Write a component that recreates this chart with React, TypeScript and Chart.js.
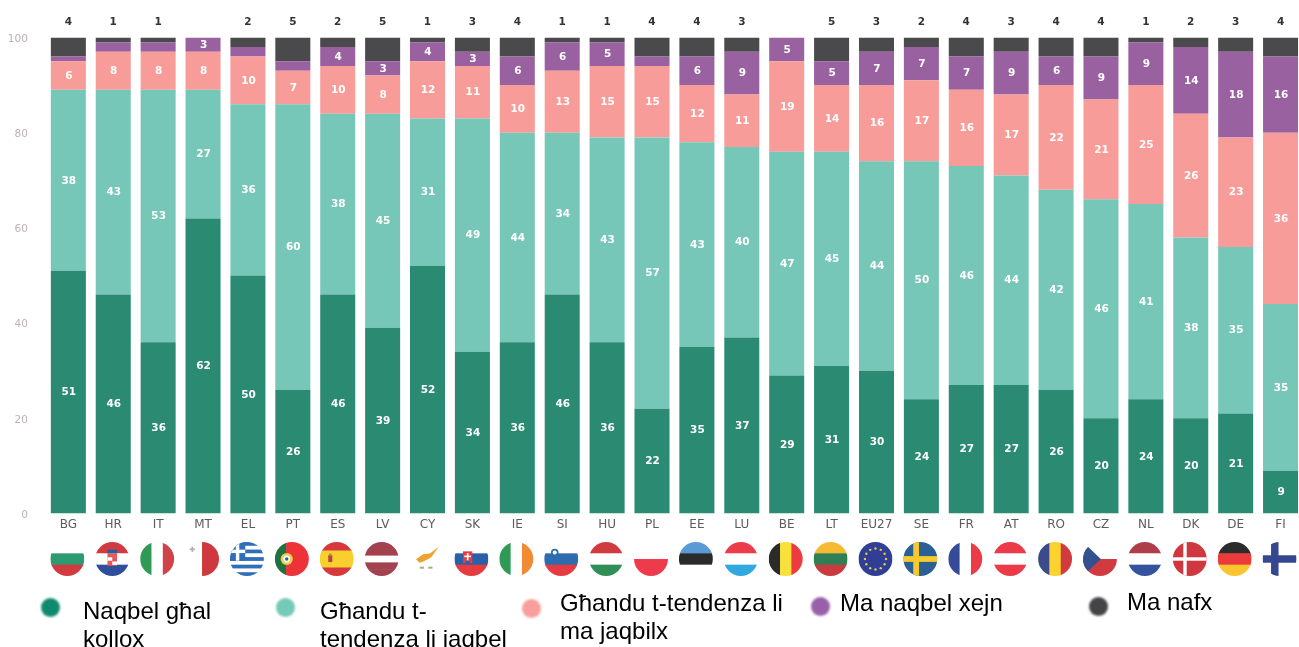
import React, { useEffect, useRef } from "react";
import { Chart, registerables } from "chart.js";

Chart.register(...registerables);

const countries = ["BG","HR","IT","MT","EL","PT","ES","LV","CY","SK","IE","SI","HU","PL","EE","LU","BE","LT","EU27","SE","FR","AT","RO","CZ","NL","DK","DE","FI"];
const totallyTrust = [51,46,36,62,50,26,46,39,52,34,36,46,36,22,35,37,29,31,30,24,27,27,26,20,24,20,21,9];
const tendToTrust = [38,43,53,27,36,60,38,45,31,49,44,34,43,57,43,40,47,45,44,50,46,44,42,46,41,38,35,35];
const tendNotTrust = [6,8,8,8,10,7,10,8,12,11,10,13,15,15,12,11,19,14,16,17,16,17,22,21,25,26,23,36];
const notAtAll = [1,2,2,3,2,2,4,3,4,3,6,6,5,2,6,9,5,5,7,7,7,9,6,9,9,14,18,16];
const dontKnow = [4,1,1,0,2,5,2,5,1,3,4,1,1,4,4,3,0,5,3,2,4,3,4,4,1,2,3,4];

const seriesNames = ["Naqbel għal kollox","Għandu t-tendenza li jaqbel","Għandu t-tendenza li ma jaqbilx","Ma naqbel xejn","Ma nafx"];
const seriesColors = ["#2a8a72","#76c7b8","#f79c99","#99619f","#4a494b"];
const legendDotColors = ["#0f8a6f","#74c9b7","#f89f9d","#9a5fa8","#444446"];
const legendLines = [["Naqbel għal","kollox"],["Għandu t-","tendenza li jaqbel"],["Għandu t-tendenza li","ma jaqbilx"],["Ma naqbel xejn"],["Ma nafx"]];
const legendDotX = [50,285,531,820,1098];
const legendDotY = [607,607,608,606,606];
const legendTextX = [83,320,560,840,1127];
const legendTextY = [597,597,589,589,588];

const WHITE = "#ffffff";
// h = horizontal bands, v = vertical bands
const flagBands: Record<string, [string, string[]]> = {
  BG: ["h",[WHITE,"#2d9a6f","#d13b3f"]], HR: ["h",["#d13b3f",WHITE,"#2f4e9c"]], IT: ["v",["#2f9a55",WHITE,"#d04348"]],
  MT: ["v",[WHITE,"#d0383f"]], EL: ["h",["#2e6fb8",WHITE,"#2e6fb8",WHITE,"#2e6fb8",WHITE,"#2e6fb8",WHITE,"#2e6fb8"]],
  PT: ["v",["#22703f","#ee3338","#ee3338"]], ES: ["h",["#d8383c","#f8cf2e","#f8cf2e","#d8383c"]], LV: ["h",["#a3414f","#a3414f",WHITE,"#a3414f","#a3414f"]],
  CY: ["h",[WHITE]], SK: ["h",[WHITE,"#2a60a8","#e63b40"]], IE: ["v",["#2f9a55",WHITE,"#f08a35"]], SI: ["h",[WHITE,"#2e6cb0","#e63b40"]],
  HU: ["h",["#d13b3f",WHITE,"#2f8f57"]], PL: ["h",[WHITE,"#ee3b4c"]], EE: ["h",["#5b9bd5","#2b2b2b",WHITE]], LU: ["h",["#ec3b4a",WHITE,"#32a8e0"]],
  BE: ["v",["#2b2b2b","#f8e13a","#ee3b40"]], LT: ["h",["#f6bb33","#2f7f55","#c83b3f"]], EU27: ["h",["#2f3f96"]], SE: ["h",["#2b6096"]],
  FR: ["v",["#354a98",WHITE,"#ec3b48"]], AT: ["h",["#ec3b48",WHITE,"#ec3b48"]], RO: ["v",["#3a4a8c","#fcd22f","#d13b3f"]], CZ: ["h",[WHITE,"#d13b3f"]],
  NL: ["h",["#ae3f4a",WHITE,"#34539c"]], DK: ["h",["#d0383f"]], DE: ["h",["#2b2b2b","#ec3b3b","#fcc52f"]], FI: ["h",[WHITE]],
};

function drawFlag(ctx: CanvasRenderingContext2D, code: string, cx: number, cy: number, r: number) {
  ctx.save();
  ctx.beginPath();
  ctx.arc(cx, cy, r, 0, Math.PI * 2);
  ctx.clip();
  const [dir, bands] = flagBands[code];
  const d = 2 * r;
  bands.forEach((c, i) => {
    ctx.fillStyle = c;
    const a = (i / bands.length) * d;
    const s = d / bands.length + 0.5;
    if (dir === "h") ctx.fillRect(cx - r, cy - r + a, d, s);
    else ctx.fillRect(cx - r + a, cy - r, s, d);
  });
  const rect = (c: string, fx: number, fy: number, fw: number, fh: number) => {
    ctx.fillStyle = c;
    ctx.fillRect(cx + fx * r, cy + fy * r, fw * r, fh * r);
  };
  const dot = (c: string, fx: number, fy: number, fr: number) => {
    ctx.fillStyle = c;
    ctx.beginPath();
    ctx.arc(cx + fx * r, cy + fy * r, fr * r, 0, Math.PI * 2);
    ctx.fill();
  };
  if (code === "EL") { rect("#2e6fb8", -1, -1, 0.9, 1.1); rect(WHITE, -0.65, -1, 0.2, 1.1); rect(WHITE, -1, -0.55, 0.9, 0.2); }
  if (code === "MT") { rect("#b9a9ab", -0.72, -0.62, 0.3, 0.1); rect("#b9a9ab", -0.62, -0.72, 0.1, 0.3); }
  if (code === "PT") { dot("#e8d24a", -0.3, 0, 0.36); dot(WHITE, -0.3, 0, 0.2); dot("#2c5aa0", -0.3, 0, 0.1); }
  if (code === "ES") { rect("#b5473a", -0.5, -0.22, 0.24, 0.4); rect("#c98a35", -0.46, -0.32, 0.16, 0.12); }
  if (code === "HR") { rect("#e45a5a", -0.28, -0.32, 0.56, 0.72); rect(WHITE, -0.28, -0.1, 0.28, 0.2); rect(WHITE, 0, 0.15, 0.28, 0.2); rect("#2f5a9e", -0.28, -0.55, 0.56, 0.22); }
  if (code === "SK") { rect("#e63b40", -0.5, -0.45, 0.55, 0.7); rect(WHITE, -0.27, -0.35, 0.1, 0.5); rect(WHITE, -0.42, -0.2, 0.4, 0.09); dot("#2a60a8", -0.22, 0.2, 0.12); }
  if (code === "SI") { dot("#2e6cb0", -0.38, -0.38, 0.22); dot(WHITE, -0.38, -0.38, 0.12); }
  if (code === "CY") {
    ctx.fillStyle = "#efa22f";
    ctx.beginPath();
    ctx.moveTo(cx - 0.62 * r, cy + 0.02 * r);
    ctx.lineTo(cx - 0.2 * r, cy - 0.28 * r);
    ctx.lineTo(cx + 0.2 * r, cy - 0.32 * r);
    ctx.lineTo(cx + 0.72 * r, cy - 0.72 * r);
    ctx.lineTo(cx + 0.28 * r, cy - 0.1 * r);
    ctx.lineTo(cx - 0.12 * r, cy + 0.12 * r);
    ctx.lineTo(cx - 0.4 * r, cy + 0.22 * r);
    ctx.closePath();
    ctx.fill();
    rect("#9db58a", -0.4, 0.45, 0.25, 0.12); rect("#9db58a", 0.1, 0.45, 0.25, 0.12);
  }
  if (code === "EU27") {
    for (let i = 0; i < 12; i++) {
      const t = (i / 12) * Math.PI * 2;
      dot("#e6c94a", 0.62 * Math.cos(t), 0.62 * Math.sin(t), 0.07);
    }
  }
  if (code === "SE") { rect("#f5c92f", -1, -0.17, 2, 0.34); rect("#f5c92f", -0.42, -1, 0.34, 2); }
  if (code === "DK") { rect(WHITE, -1, -0.1, 2, 0.2); rect(WHITE, -0.38, -1, 0.2, 2); }
  if (code === "FI") { rect("#35488f", -1, -0.22, 2, 0.44); rect("#35488f", -0.5, -1, 0.44, 2); }
  if (code === "CZ") {
    ctx.fillStyle = "#33508f";
    ctx.beginPath();
    ctx.moveTo(cx - r, cy - r);
    ctx.lineTo(cx + 0.05 * r, cy);
    ctx.lineTo(cx - r, cy + r);
    ctx.closePath();
    ctx.fill();
  }
  ctx.restore();
}

const decoPlugin = {
  id: "deco",
  afterDatasetsDraw(chart: any) {
    const { ctx, scales } = chart;
    ctx.save();
    ctx.textAlign = "center";
    ctx.textBaseline = "middle";
    // segment values in white, "Ma nafx" on top of the column
    chart.data.datasets.forEach((ds: any, di: number) => {
      const meta = chart.getDatasetMeta(di);
      meta.data.forEach((bar: any, i: number) => {
        const v = ds.data[i];
        const p = bar.getProps(["x", "y", "base"], true);
        if (di === 4) {
          if (v > 0) {
            ctx.fillStyle = "#333335";
            ctx.font = "bold 10.5px 'DejaVu Sans'";
            ctx.fillText(String(v), p.x, chart.chartArea.top - 15.5);
          }
        } else if (v >= 3) {
          ctx.fillStyle = "#ffffff";
          ctx.font = "bold 10.5px 'DejaVu Sans'";
          ctx.fillText(String(v), p.x + 0.5, (p.y + p.base) / 2 + 0.5);
        }
      });
    });
    ctx.restore();
    const y = scales.y.bottom + 45.5;
    countries.forEach((c, i) => drawFlag(ctx, c, scales.x.getPixelForValue(i) - 1, y, 17));
  },
};

export default function App() {
  const ref = useRef<HTMLCanvasElement>(null);
  useEffect(() => {
    document.body.style.margin = "0";
    document.body.style.overflow = "hidden";
    document.body.style.background = "#fff";
    const values = [totallyTrust, tendToTrust, tendNotTrust, notAtAll, dontKnow];
    const chart = new Chart(ref.current as HTMLCanvasElement, {
      type: "bar",
      data: {
        labels: countries,
        datasets: seriesNames.map((name, i) => ({
          label: name,
          data: values[i],
          backgroundColor: seriesColors[i],
          stack: "s",
          barPercentage: 0.78,
          categoryPercentage: 1,
        })),
      },
      options: {
        responsive: false,
        animation: false,
        layout: { padding: { top: 37.5, right: 17, left: 0, bottom: 0 } },
        plugins: { legend: { display: false }, tooltip: { enabled: false } },
        scales: {
          x: {
            stacked: true,
            grid: { display: false, drawTicks: false },
            border: { display: false },
            ticks: { color: "#5c5c5c", font: { family: "'DejaVu Sans'", size: 12 }, padding: 4, maxRotation: 0, autoSkip: false },
            afterFit(s: any) { s.height = 133.5; },
          },
          y: {
            stacked: true,
            min: 0,
            max: 100,
            grid: { display: false, drawTicks: false },
            border: { display: false },
            ticks: { stepSize: 20, color: "#bfb0b3", font: { family: "'DejaVu Sans'", size: 10.5 }, padding: 18, labelOffset: 1.5 },
            afterFit(s: any) { s.width = 45.9; },
          },
        },
      },
      plugins: [decoPlugin],
    } as any);
    return () => chart.destroy();
  }, []);

  return (
    <div style={{ position: "relative", width: 1299, height: 647, overflow: "hidden", background: "#fff" }}>
      <canvas ref={ref} width={1320} height={647} style={{ display: "block", width: 1320, height: 647, filter: "blur(0.45px)" }} />
      {seriesNames.map((name, i) => (
        <React.Fragment key={name}>
          <div style={{ position: "absolute", left: legendDotX[i] - 9.5, top: legendDotY[i] - 9.5, width: 19, height: 19, borderRadius: "50%", background: legendDotColors[i], filter: "blur(0.8px)" }} />
          <div style={{ position: "absolute", left: legendTextX[i], top: legendTextY[i], font: "24px/28px 'Liberation Sans'", color: "#000", whiteSpace: "nowrap" }}>
            {legendLines[i].map((line) => (
              <div key={line}>{line}</div>
            ))}
          </div>
        </React.Fragment>
      ))}
    </div>
  );
}
